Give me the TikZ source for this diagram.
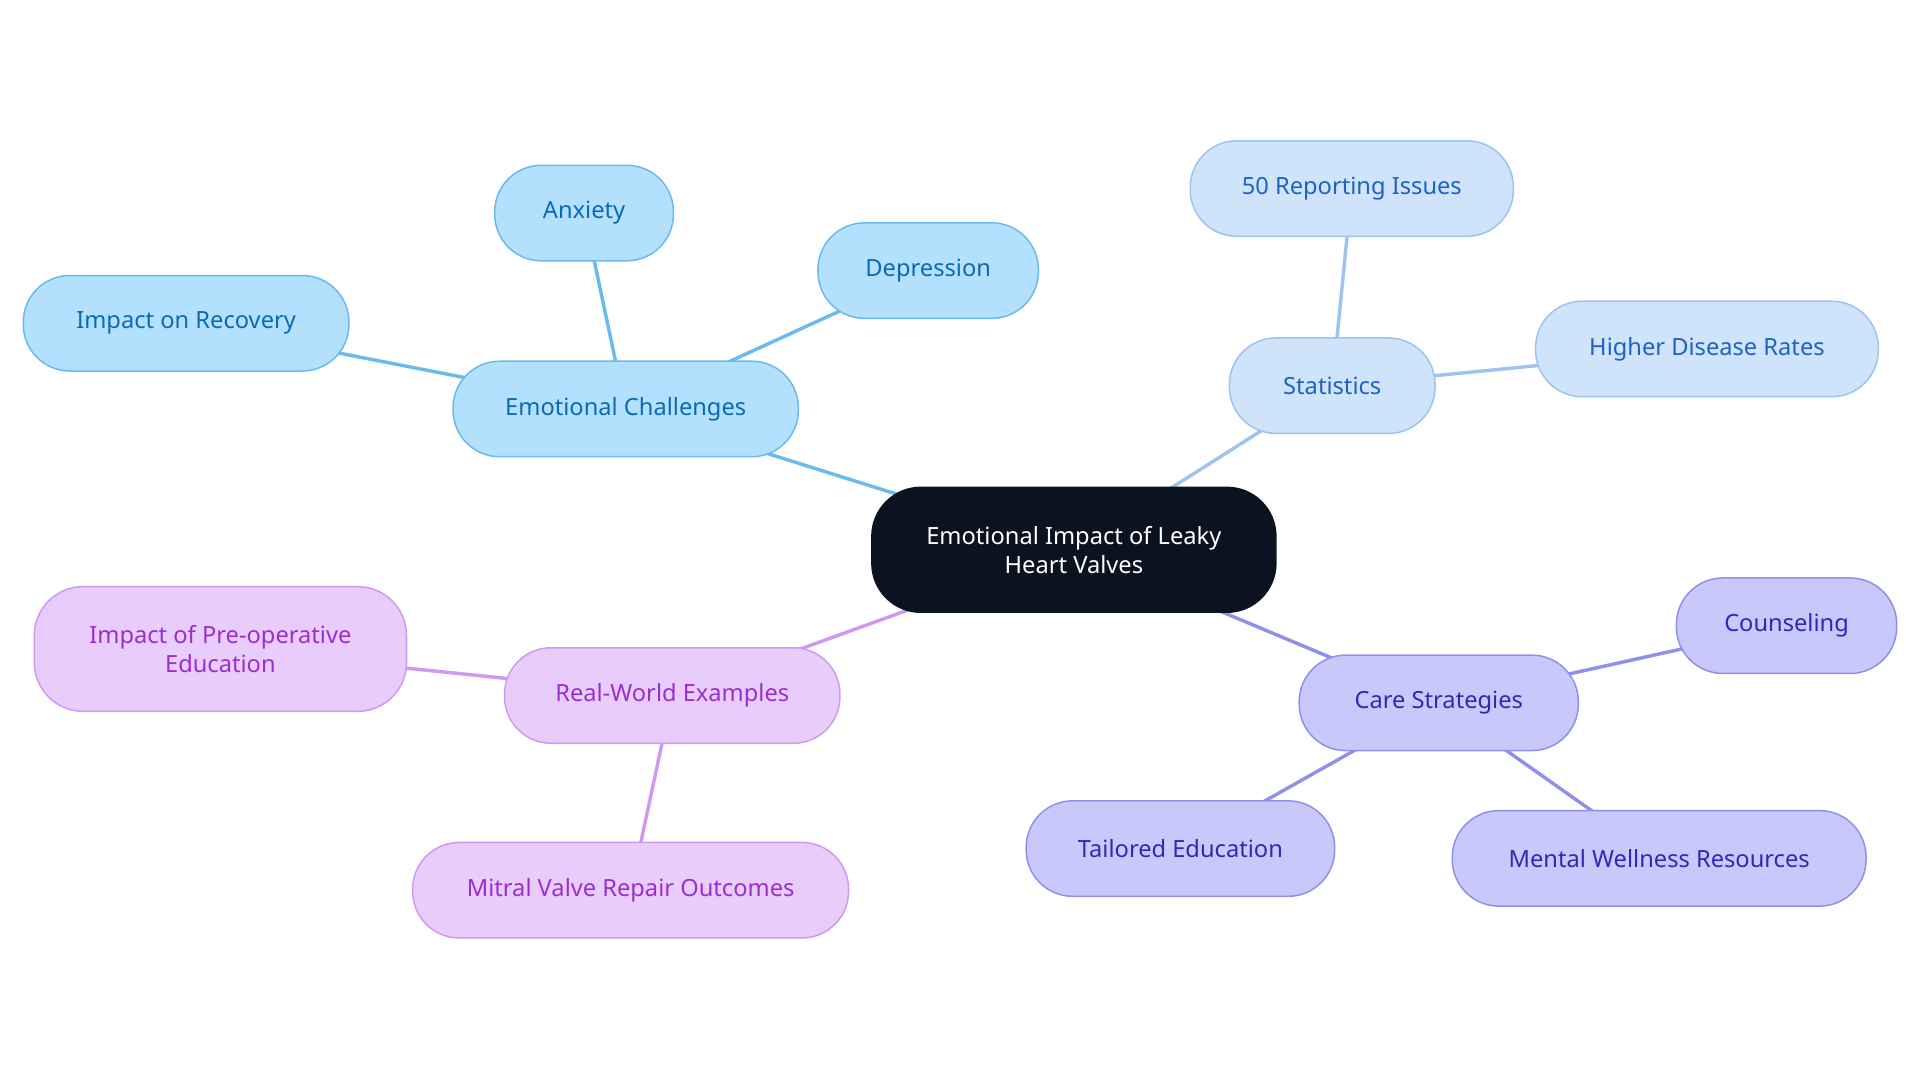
\documentclass[tikz,border=0pt]{standalone}
\usepackage{fontspec}
\setmainfont{Noto Sans}
\usetikzlibrary{backgrounds}
\definecolor{cF}{HTML}{0B1320}
\definecolor{bF}{HTML}{B3E0FD}\definecolor{bD}{HTML}{6CB9EE}\definecolor{bT}{HTML}{0A6BB5}
\definecolor{sF}{HTML}{CFE3FA}\definecolor{sD}{HTML}{9CC4EE}\definecolor{sT}{HTML}{1E63C0}
\definecolor{pF}{HTML}{C8C8FA}\definecolor{pD}{HTML}{9090EB}\definecolor{pT}{HTML}{2B2BB5}
\definecolor{mF}{HTML}{E8CCFC}\definecolor{mD}{HTML}{CF99F2}\definecolor{mT}{HTML}{9A2FCB}
\tikzset{
 box/.style={rounded corners=0.76cm, draw, line width=0.7pt, align=center, inner sep=0pt,
   minimum height=1.56cm, font=\fontsize{11}{13.5}\selectfont},
 blue/.style={box, fill=bF, draw=bD, text=bT},
 sky/.style={box, fill=sF, draw=sD, text=sT},
 purp/.style={box, fill=pF, draw=pD, text=pT},
 mag/.style={box, fill=mF, draw=mD, text=mT},
 ed/.style={line width=1.6pt}
}
\begin{document}
\begin{tikzpicture}[x=0.02cm,y=-0.02cm]
\useasboundingbox (0,0) rectangle (1568,884);
\node[box, fill=cF, draw=cF, text=white, minimum width=6.6cm, minimum height=2.04cm, rounded corners=0.8cm] (c) at (877,449) {Emotional Impact of Leaky\\Heart Valves};
\node[blue, minimum width=5.64cm] (ec) at (511,334) {Emotional Challenges};
\node[blue, minimum width=2.92cm] (an) at (477,174) {Anxiety};
\node[blue, minimum width=3.6cm] (de) at (758,221) {Depression};
\node[blue, minimum width=5.32cm] (ir) at (152,264) {Impact on Recovery};
\node[sky, minimum width=3.36cm] (st) at (1088,315) {Statistics};
\node[sky, minimum width=5.28cm] (ri) at (1104,154) {50 Reporting Issues};
\node[sky, minimum width=5.6cm] (hd) at (1394,285) {Higher Disease Rates};
\node[purp, minimum width=4.56cm] (cs) at (1175,574) {Care Strategies};
\node[purp, minimum width=3.6cm] (co) at (1459,511) {Counseling};
\node[purp, minimum width=5.04cm] (te) at (964,693) {Tailored Education};
\node[purp, minimum width=6.76cm] (mw) at (1355,701) {Mental Wellness Resources};
\node[mag, minimum width=5.48cm] (rw) at (549,568) {Real-World Examples};
\node[mag, minimum width=6.08cm, minimum height=2.04cm, rounded corners=0.8cm] (ip) at (180,530) {Impact of Pre-operative\\Education};
\node[mag, minimum width=7.12cm] (mv) at (515,727) {Mitral Valve Repair Outcomes};
\begin{scope}[on background layer]
\draw[ed,bD] (c.center)--(ec.center) (ec.center)--(an.center) (ec.center)--(de.center) (ec.center)--(ir.center);
\draw[ed,sD] (c.center)--(st.center) (st.center)--(ri.center) (st.center)--(hd.center);
\draw[ed,pD] (c.center)--(cs.center) (cs.center)--(co.center) (cs.center)--(te.center) (cs.center)--(mw.center);
\draw[ed,mD] (c.center)--(rw.center) (rw.center)--(ip.center) (rw.center)--(mv.center);
\end{scope}
\end{tikzpicture}
\end{document}
